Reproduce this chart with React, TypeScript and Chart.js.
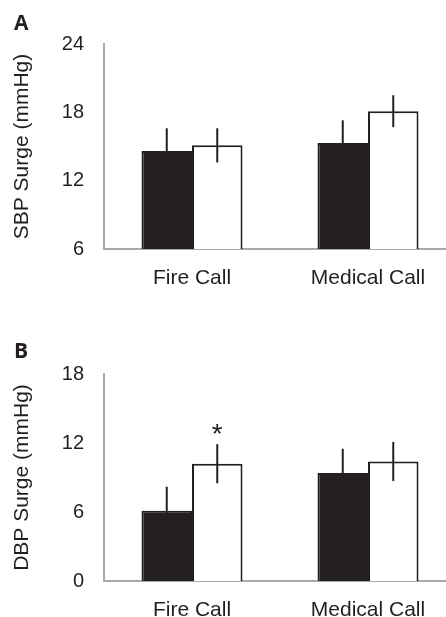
import { useEffect, useRef } from "react";
import { Chart, registerables } from "chart.js";

Chart.register(...registerables);

const categories = ["Fire Call", "Medical Call"];

const sbpBlack = [14.6, 15.3];
const sbpBlackErr = [2.0, 2.0];
const sbpWhite = [15.1, 18.1];
const sbpWhiteErr = [1.5, 1.4];
const sbpTicks = [6, 12, 18, 24];

const dbpBlack = [6.1, 9.4];
const dbpBlackErr = [2.1, 2.1];
const dbpWhite = [10.2, 10.4];
const dbpWhiteErr = [1.7, 1.7];
const dbpWhiteMarks = ["*", ""];
const dbpTicks = [0, 6, 12, 18];

const INK = "#231f20";
const AXIS = "#a7a9ac";
const FONT = "'Liberation Sans', Arial, sans-serif";

const errorBarPlugin = {
  id: "errorBars",
  afterDatasetsDraw(chart: any) {
    const ctx = chart.ctx;
    const yScale = chart.scales.y;
    chart.data.datasets.forEach((ds: any, i: number) => {
      const meta = chart.getDatasetMeta(i);
      meta.data.forEach((el: any, j: number) => {
        const v = ds.data[j];
        const e = ds.errors ? ds.errors[j] : 0;
        const x = el.x;
        const yTop = yScale.getPixelForValue(v + e);
        const yBot = yScale.getPixelForValue(v - e);
        ctx.save();
        ctx.strokeStyle = INK;
        ctx.lineWidth = 2;
        ctx.beginPath();
        ctx.moveTo(x, yTop);
        ctx.lineTo(x, yBot);
        ctx.stroke();
        const mark = ds.marks ? ds.marks[j] : "";
        if (mark) {
          ctx.fillStyle = INK;
          ctx.font = `28px ${FONT}`;
          ctx.textAlign = "center";
          ctx.textBaseline = "alphabetic";
          ctx.fillText(mark, x, yTop - 1);
        }
        ctx.restore();
      });
    });
  },
};

function makeConfig(
  black: number[],
  blackErr: number[],
  white: number[],
  whiteErr: number[],
  whiteMarks: string[],
  ticks: number[],
  title: string,
  padTop: number,
  xHeight: number
): any {
  return {
    type: "bar",
    data: {
      labels: categories,
      datasets: [
        {
          data: black,
          errors: blackErr,
          marks: [],
          backgroundColor: INK,
          borderColor: INK,
          borderWidth: 2,
          categoryPercentage: 0.574,
          barPercentage: 1.0,
        },
        {
          data: white,
          errors: whiteErr,
          marks: whiteMarks,
          backgroundColor: "#ffffff",
          borderColor: INK,
          borderWidth: 2,
          categoryPercentage: 0.574,
          barPercentage: 1.0,
        },
      ],
    },
    options: {
      responsive: false,
      animation: false,
      devicePixelRatio: 1,
      layout: { padding: { top: padTop, left: 0, right: 4, bottom: 0 } },
      plugins: { legend: { display: false }, tooltip: { enabled: false } },
      scales: {
        x: {
          type: "category",
          z: 1,
          grid: { display: false, drawTicks: false },
          border: { display: true, color: AXIS, width: 2 },
          ticks: {
            color: INK,
            font: { family: FONT, size: 21 },
            padding: 17,
            maxRotation: 0,
          },
          afterFit: (s: any) => {
            s.height = xHeight;
          },
        },
        y: {
          min: ticks[0],
          max: ticks[ticks.length - 1],
          z: 1,
          grid: { display: false, drawTicks: false },
          border: { display: true, color: AXIS, width: 2 },
          ticks: {
            color: INK,
            font: { family: FONT, size: 20 },
            padding: 20,
          },
          afterBuildTicks: (s: any) => {
            s.ticks = ticks.map((v) => ({ value: v }));
          },
          title: {
            display: true,
            text: title,
            color: INK,
            font: { family: FONT, size: 21 },
            padding: { top: 10, bottom: 0 },
          },
          afterFit: (s: any) => {
            s.width = 104;
          },
        },
      },
    },
    plugins: [errorBarPlugin],
  };
}

export default function App() {
  const refA = useRef<HTMLCanvasElement>(null);
  const refB = useRef<HTMLCanvasElement>(null);

  useEffect(() => {
    const a = new Chart(
      refA.current as HTMLCanvasElement,
      makeConfig(sbpBlack, sbpBlackErr, sbpWhite, sbpWhiteErr, [], sbpTicks, "SBP Surge (mmHg)", 44, 51)
    );
    const b = new Chart(
      refB.current as HTMLCanvasElement,
      makeConfig(dbpBlack, dbpBlackErr, dbpWhite, dbpWhiteErr, dbpWhiteMarks, dbpTicks, "DBP Surge (mmHg)", 74, 59)
    );
    return () => {
      a.destroy();
      b.destroy();
    };
  }, []);

  const letter: any = {
    position: "absolute",
    fontFamily: "'Open Sans', sans-serif",
    fontWeight: 700,
    fontSize: "21px",
    lineHeight: "20px",
    color: INK,
  };

  return (
    <div
      style={{
        position: "absolute",
        left: 0,
        top: 0,
        width: 446,
        height: 617,
        overflow: "hidden",
        background: "#ffffff",
      }}
    >
      <canvas
        ref={refA}
        width={460}
        height={300}
        style={{ position: "absolute", left: 0, top: 0, width: 460, height: 300 }}
      />
      <canvas
        ref={refB}
        width={460}
        height={340}
        style={{ position: "absolute", left: 0, top: 300, width: 460, height: 340 }}
      />
      <div style={{ ...letter, left: 14, top: 12 }}>A</div>
      <div style={{ ...letter, left: 14, top: 340 }}>B</div>
    </div>
  );
}
